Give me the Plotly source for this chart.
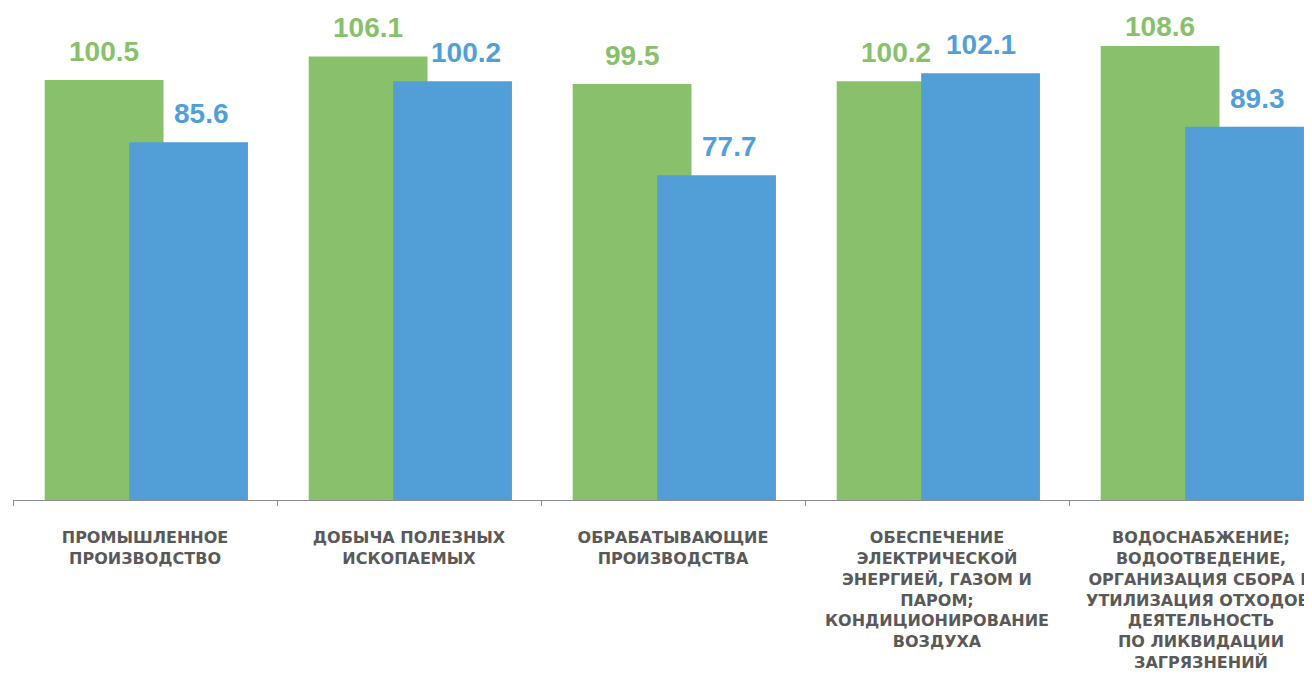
import plotly.graph_objects as go

categories = [
    "ПРОМЫШЛЕННОЕ<br>ПРОИЗВОДСТВО",
    "ДОБЫЧА ПОЛЕЗНЫХ<br>ИСКОПАЕМЫХ",
    "ОБРАБАТЫВАЮЩИЕ<br>ПРОИЗВОДСТВА",
    "ОБЕСПЕЧЕНИЕ<br>ЭЛЕКТРИЧЕСКОЙ<br>ЭНЕРГИЕЙ, ГАЗОМ И<br>ПАРОМ;<br>КОНДИЦИОНИРОВАНИЕ<br>ВОЗДУХА",
    "ВОДОСНАБЖЕНИЕ;<br>ВОДООТВЕДЕНИЕ,<br>ОРГАНИЗАЦИЯ СБОРА И<br>УТИЛИЗАЦИЯ ОТХОДОВ,<br>ДЕЯТЕЛЬНОСТЬ<br>ПО ЛИКВИДАЦИИ<br>ЗАГРЯЗНЕНИЙ",
]
series_green = [100.5, 106.1, 99.5, 100.2, 108.6]
series_blue = [85.6, 100.2, 77.7, 102.1, 89.3]

GREEN = "#88C06B"
BLUE = "#529FD7"
GREY = "#595959"
AXIS = "#8C8C8C"
FONT = "Liberation Sans, Arial, sans-serif"
TICK_FONT = "DejaVu Sans, Liberation Sans, Arial, sans-serif"

BAR_W = 0.45
OFF_G = -0.38
OFF_B = -0.06
PX_PER_UNIT = 4.18
PLOT_H = 492
Y_MAX = PLOT_H / PX_PER_UNIT


def label_shift(v):
    # keep the label inside the chart when the bar is near the top
    headroom = (Y_MAX - v) * PX_PER_UNIT
    return min(11, headroom - 36)


fig = go.Figure()
fig.add_trace(go.Bar(
    x=categories, y=series_green, marker_color=GREEN, marker_line_width=0,
    offset=OFF_G, width=BAR_W, showlegend=False, hoverinfo="y",
))
fig.add_trace(go.Bar(
    x=categories, y=series_blue, marker_color=BLUE, marker_line_width=0,
    offset=OFF_B, width=BAR_W, showlegend=False, hoverinfo="y",
))

# value labels, placed above each bar via the axes
for i, (g, b) in enumerate(zip(series_green, series_blue)):
    fig.add_annotation(
        x=i + OFF_G + BAR_W / 2, y=g, xref="x", yref="y",
        text=f"<b>{g:.1f}</b>", showarrow=False, yanchor="bottom",
        yshift=label_shift(g), font=dict(family=FONT, size=28, color=GREEN),
    )
    fig.add_annotation(
        x=i + OFF_B + BAR_W / 2, y=b, xref="x", yref="y",
        text=f"<b>{b:.1f}</b>", showarrow=False, yanchor="bottom",
        yshift=label_shift(b), xshift=13 if b < g else 0,
        font=dict(family=FONT, size=28, color=BLUE),
    )

fig.update_layout(
    width=1304, height=666,
    margin=dict(l=5, r=0, t=0, b=174, autoexpand=False),
    barmode="overlay",
    plot_bgcolor="white", paper_bgcolor="white",
)
fig.update_xaxes(
    type="category", range=[-0.5, -0.5 + 1299 / 264.0],
    showline=True, linecolor=AXIS, linewidth=1,
    ticks="outside", ticklen=5, tickcolor=AXIS, tickson="boundaries",
    showgrid=False, zeroline=False, automargin=False,
    tickfont=dict(family=TICK_FONT, size=16, color=GREY, weight="bold"),
    ticklabelstandoff=23,
)
fig.update_yaxes(
    range=[0, Y_MAX], visible=False, showgrid=False, zeroline=False,
)

fig.write_html("out.html")
